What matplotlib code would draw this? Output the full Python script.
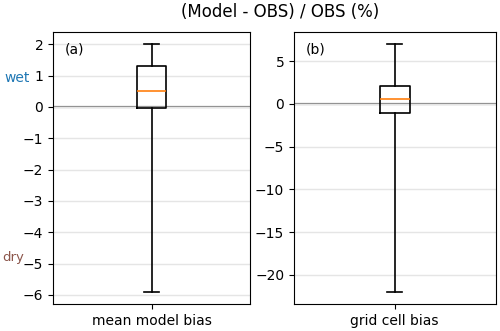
import matplotlib.pyplot as plt

labels = ["mean model bias", "grid cell bias"]
panels = ["(a)", "(b)"]
whislo = [-5.9, -22.0]
q1 = [-0.05, -1.1]
med = [0.5, 0.6]
q3 = [1.3, 2.1]
whishi = [2.0, 7.0]

fig = plt.figure(figsize=(5, 3.31), dpi=100)
ax1 = fig.add_axes([0.106, 0.081, 0.394, 0.823])
ax2 = fig.add_axes([0.588, 0.081, 0.403, 0.823])

lw = 1.2
for i, ax in enumerate([ax1, ax2]):
    stats = [dict(label=labels[i], whislo=whislo[i], q1=q1[i], med=med[i],
                  q3=q3[i], whishi=whishi[i], fliers=[])]
    ax.bxp(stats, showfliers=False, widths=0.15,
           boxprops=dict(lw=lw), whiskerprops=dict(lw=lw),
           capprops=dict(lw=lw), medianprops=dict(color="C1", lw=lw))
    ax.axhline(0, color="gray", lw=1.6, zorder=0.5)
    ax.yaxis.grid(True, color="#e5e5e5", lw=1)
    ax.set_axisbelow(True)
    ax.text(0.06, 0.96, panels[i], transform=ax.transAxes, va="top", fontsize=10)

fig.text(0.008, 0.764, "wet", color="#1f77b4", ha="left", va="center", fontsize=10)
fig.text(0.004, 0.222, "dry", color="#8c564b", ha="left", va="center", fontsize=9.5)
fig.suptitle("(Model - OBS) / OBS (%)", x=0.56, y=0.99, fontsize=12)

fig.savefig("out.png", dpi=100)
